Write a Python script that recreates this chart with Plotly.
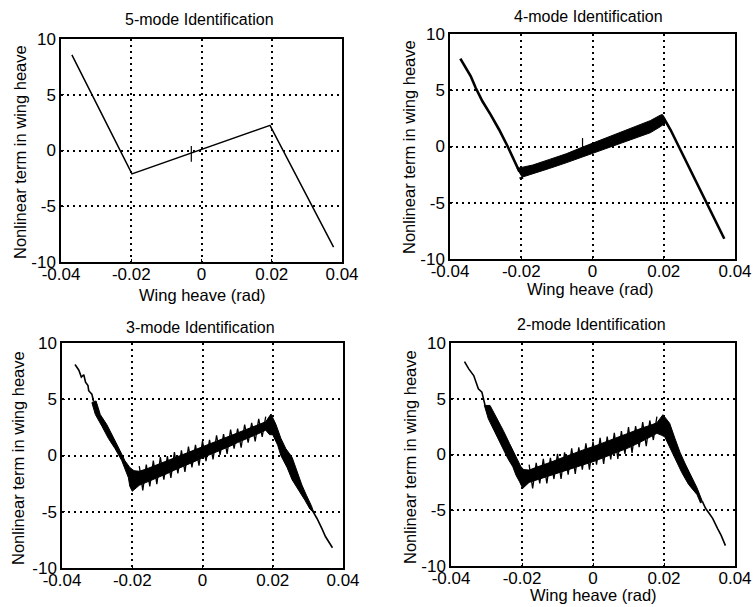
import plotly.graph_objects as go

# ---------------- axis ticks ----------------
x_ticks = [-0.04, -0.02, 0, 0.02, 0.04]
x_ticklabels = ["-0.04", "-0.02", "0", "0.02", "0.04"]
y_ticks = [-10, -5, 0, 5, 10]
y_ticklabels = ["-10", "-5", "0", "5", "10"]

titles = ["5-mode Identification", "4-mode Identification",
          "3-mode Identification", "2-mode Identification"]
x_title = "Wing heave (rad)"
y_title = "Nonlinear term in wing heave"

# ---------------- 5-mode (clean piecewise line) ----------------
m5_x = [-0.0369, -0.0198, 0.0195, 0.0376]
m5_y = [8.57, -2.10, 2.25, -8.66]
m5_spike_x = [-0.0029, -0.0029]
m5_spike_y = [0.40, -1.00]

# ---------------- 4-mode ----------------
m4_left_x = [-0.0371, -0.0342, -0.0328, -0.0309, -0.0286, -0.0262, -0.0238, -0.0219, -0.0205]
m4_left_y = [7.81, 6.26, 5.22, 4.02, 2.83, 1.49, 0.00, -1.34, -2.24]
m4_band_x = [-0.0168, -0.0121, -0.0074, -0.0026, 0.0021, 0.0068, 0.0115, 0.0162, 0.0190]
m4_band_top = [-1.65, -1.15, -0.65, -0.03, 0.55, 1.15, 1.72, 2.30, 2.78]
m4_band_bot = [-2.45, -1.95, -1.45, -0.90, -0.35, 0.15, 0.68, 1.22, 1.75]
m4_knee_x = [-0.0212, -0.0205, -0.0195]
m4_knee_y = [-1.95, -2.85, -2.80]
m4_peak_x = [0.0196, 0.0205]
m4_peak_y = [2.85, 2.10]
m4_right_x = [0.0195, 0.0200, 0.0219, 0.0247, 0.0275, 0.0304, 0.0332, 0.0351, 0.0370]
m4_right_y = [2.75, 2.53, 1.49, -0.30, -2.09, -3.87, -5.66, -7.00, -8.20]
m4_spike_x = [-0.0028, -0.0028]
m4_spike_y = [0.75, -0.10]

# ---------------- 3-mode ----------------
m3_left_x = [-0.0363, -0.0352, -0.0345, -0.0338, -0.0333, -0.0326, -0.0324, -0.0315, -0.0310]
m3_left_y = [8.09, 7.58, 6.97, 7.18, 6.52, 6.21, 5.76, 5.45, 4.80]
m3_in_x = [-0.0303, -0.0291, -0.0272, -0.0254, -0.0235, -0.0221, -0.0207, -0.0195]
m3_in_y = [4.85, 3.64, 2.73, 1.67, 0.45, -0.45, -1.06, -1.35]
m3_out_x = [-0.0200, -0.0207, -0.0211, -0.0221, -0.0230, -0.0249, -0.0268, -0.0286, -0.0305, -0.0315]
m3_out_y = [-3.18, -2.73, -1.97, -1.21, -0.45, 0.61, 1.52, 2.58, 3.64, 4.70]
m3_mid_x = [-0.018, -0.016, -0.014, -0.012, -0.010, -0.008, -0.006, -0.004, -0.002, 0.0,
            0.002, 0.004, 0.006, 0.008, 0.010, 0.012, 0.014, 0.016, 0.018]
m3_hi = [-0.95, -0.80, -0.45, -0.15, -0.05, 0.30, 0.45, 0.80, 0.95, 1.30,
         1.40, 1.80, 1.90, 2.30, 2.40, 2.75, 2.90, 3.25, 3.45]
m3_hi_core = [-1.40, -1.20, -0.95, -0.70, -0.45, -0.20, 0.05, 0.30, 0.55, 0.80,
              1.05, 1.25, 1.50, 1.75, 2.00, 2.25, 2.50, 2.75, 3.00]
m3_lo_x = [-0.017, -0.015, -0.013, -0.011, -0.009, -0.007, -0.005, -0.003, -0.001,
           0.001, 0.003, 0.005, 0.007, 0.009, 0.011, 0.013, 0.015, 0.017]
m3_lo = [-3.10, -2.75, -2.55, -2.15, -2.00, -1.60, -1.45, -1.05, -0.90,
         -0.50, -0.35, 0.05, 0.15, 0.60, 0.70, 1.15, 1.25, 1.65]
m3_lo_core = [-2.65, -2.40, -2.10, -1.85, -1.60, -1.30, -1.05, -0.75, -0.50, -0.20,
              0.05, 0.35, 0.60, 0.85, 1.15, 1.40, 1.70, 1.95, 2.25]
m3_peak_top = (0.0195, 3.69)
m3_peak_in = (0.0191, 1.85)
m3_rout_x = [0.0209, 0.0223, 0.0237, 0.0255, 0.0269, 0.0283, 0.0296, 0.0310, 0.0317]
m3_rout_y = [2.77, 1.54, 0.62, -0.15, -1.38, -2.62, -3.54, -4.46, -5.08]
m3_rin_x = [0.0306, 0.0292, 0.0273, 0.0255, 0.0241, 0.0223, 0.0214, 0.0200]
m3_rin_y = [-4.77, -4.00, -3.08, -2.15, -1.08, 0.00, 0.92, 1.85]
m3_right_x = [0.0313, 0.0326, 0.0340, 0.0350, 0.0370]
m3_right_y = [-4.90, -5.60, -6.50, -7.20, -8.20]

# ---------------- 2-mode ----------------
m2_left_x = [-0.0362, -0.0350, -0.0336, -0.0332, -0.0323, -0.0313, -0.0309, -0.0304]
m2_left_y = [8.33, 7.68, 7.08, 6.64, 5.89, 5.60, 5.00, 4.40]
m2_in_x = [-0.0290, -0.0272, -0.0253, -0.0235, -0.0217, -0.0203, -0.0195]
m2_in_y = [4.40, 3.36, 2.17, 0.98, -0.21, -1.10, -1.35]
m2_out_x = [-0.0198, -0.0200, -0.0207, -0.0217, -0.0226, -0.0240, -0.0258, -0.0276, -0.0295, -0.0306]
m2_out_y = [-3.04, -2.89, -2.44, -1.85, -1.10, -0.36, 0.83, 2.02, 3.21, 4.40]
m2_mid_x = [-0.018, -0.016, -0.014, -0.012, -0.010, -0.008, -0.006, -0.004, -0.002, 0.0,
            0.002, 0.004, 0.006, 0.008, 0.010, 0.012, 0.014, 0.016, 0.018]
m2_hi = [-0.90, -0.75, -0.40, -0.30, 0.05, 0.20, 0.55, 0.65, 1.00, 1.15,
         1.50, 1.60, 1.95, 2.10, 2.45, 2.55, 2.90, 3.05, 3.40]
m2_hi_core = [-1.40, -1.15, -0.95, -0.70, -0.45, -0.20, 0.00, 0.25, 0.50, 0.70,
              0.95, 1.20, 1.45, 1.65, 1.90, 2.15, 2.40, 2.60, 2.85]
m2_lo_x = [-0.017, -0.015, -0.013, -0.011, -0.009, -0.007, -0.005, -0.003, -0.001,
           0.001, 0.003, 0.005, 0.007, 0.009, 0.011, 0.013, 0.015, 0.017]
m2_lo = [-3.05, -2.60, -2.60, -2.20, -2.20, -1.80, -1.75, -1.35, -1.35,
         -0.90, -0.85, -0.45, -0.40, 0.05, 0.15, 0.65, 0.75, 1.30]
m2_lo_core = [-2.50, -2.30, -2.10, -1.90, -1.70, -1.50, -1.30, -1.05, -0.85, -0.65,
              -0.40, -0.15, 0.05, 0.35, 0.60, 0.90, 1.20, 1.55, 1.90]
m2_peak_top = (0.0197, 3.57)
m2_peak_in = (0.0192, 1.74)
m2_rout_x = [0.0216, 0.0231, 0.0245, 0.0260, 0.0279, 0.0293, 0.0308]
m2_rout_y = [2.80, 1.43, 0.21, -0.85, -2.07, -2.99, -4.20]
m2_rin_x = [0.0303, 0.0293, 0.0269, 0.0250, 0.0231, 0.0216, 0.0202]
m2_rin_y = [-4.36, -3.60, -2.68, -1.62, -0.40, 0.67, 1.59]
m2_right_x = [0.0308, 0.0317, 0.0327, 0.0337, 0.0351, 0.0361, 0.0373]
m2_right_y = [-4.20, -4.82, -5.27, -5.73, -6.65, -7.26, -8.17]

BLACK = "black"
FONT = "Liberation Sans, Arial, Helvetica, sans-serif"


def band_polygon(in_x, in_y, mid_x, hi_core, peak_top, rout_x, rout_y,
                 rin_x, rin_y, peak_in, lo_core, out_x, out_y):
    px = in_x + mid_x + [peak_top[0]] + rout_x + rin_x + [peak_in[0]] \
        + list(reversed(mid_x)) + out_x + [in_x[0]]
    py = in_y + hi_core + [peak_top[1]] + rout_y + rin_y + [peak_in[1]] \
        + list(reversed(lo_core)) + out_y + [in_y[0]]
    return px, py


def zigzag(hi_x, hi, lo_x, lo):
    zx, zy = [], []
    for i in range(len(hi_x)):
        zx.append(hi_x[i]); zy.append(hi[i])
        if i < len(lo_x):
            zx.append(lo_x[i]); zy.append(lo[i])
    return zx, zy


def line(x, y, xa, ya, w=1.3):
    return go.Scatter(x=x, y=y, mode="lines", line=dict(color=BLACK, width=w),
                      xaxis=xa, yaxis=ya, showlegend=False, hoverinfo="skip")


def poly(x, y, xa, ya):
    return go.Scatter(x=x, y=y, mode="lines", fill="toself", fillcolor=BLACK,
                      line=dict(color=BLACK, width=1.0), xaxis=xa, yaxis=ya,
                      showlegend=False, hoverinfo="skip")


fig = go.Figure()

# 5-mode (x, y)
fig.add_trace(line(m5_x, m5_y, "x", "y", 1.5))
fig.add_trace(line(m5_spike_x, m5_spike_y, "x", "y", 1.2))

# 4-mode (x2, y2)
fig.add_trace(line(m4_left_x, m4_left_y, "x2", "y2", 2.6))
b4x = [m4_knee_x[0]] + m4_band_x + m4_peak_x + list(reversed(m4_band_x)) + m4_knee_x[1:] + [m4_knee_x[0]]
b4y = [m4_knee_y[0]] + m4_band_top + m4_peak_y + list(reversed(m4_band_bot)) + list(reversed(m4_knee_y[1:])) + [m4_knee_y[0]]
fig.add_trace(poly(b4x, b4y, "x2", "y2"))
fig.add_trace(line(m4_right_x, m4_right_y, "x2", "y2", 2.6))
fig.add_trace(line(m4_spike_x, m4_spike_y, "x2", "y2", 1.2))

# 3-mode (x3, y3)
fig.add_trace(line(m3_left_x, m3_left_y, "x3", "y3", 1.6))
p3x, p3y = band_polygon(m3_in_x, m3_in_y, m3_mid_x, m3_hi_core, m3_peak_top,
                        m3_rout_x, m3_rout_y, m3_rin_x, m3_rin_y, m3_peak_in,
                        m3_lo_core, m3_out_x, m3_out_y)
fig.add_trace(poly(p3x, p3y, "x3", "y3"))
z3x, z3y = zigzag(m3_mid_x, m3_hi, m3_lo_x, m3_lo)
fig.add_trace(line(z3x, z3y, "x3", "y3", 1.3))
fig.add_trace(line(m3_right_x, m3_right_y, "x3", "y3", 1.6))

# 2-mode (x4, y4)
fig.add_trace(line(m2_left_x, m2_left_y, "x4", "y4", 1.6))
p2x, p2y = band_polygon(m2_in_x, m2_in_y, m2_mid_x, m2_hi_core, m2_peak_top,
                        m2_rout_x, m2_rout_y, m2_rin_x, m2_rin_y, m2_peak_in,
                        m2_lo_core, m2_out_x, m2_out_y)
fig.add_trace(poly(p2x, p2y, "x4", "y4"))
z2x, z2y = zigzag(m2_mid_x, m2_hi, m2_lo_x, m2_lo)
fig.add_trace(line(z2x, z2y, "x4", "y4", 1.3))
fig.add_trace(line(m2_right_x, m2_right_y, "x4", "y4", 1.6))

W, H = 754, 607


def dom_x(a, b):
    return [a / W, b / W]


def dom_y(top, bottom):
    return [1 - bottom / H, 1 - top / H]


boxes = [  # (left, right, top, bottom) in pixels
    (61, 342, 39, 262),
    (450, 735, 34, 259),
    (62, 343, 343, 568),
    (451, 735, 343, 566),
]

axis_common = dict(
    showgrid=True, gridcolor=BLACK, gridwidth=1.6, griddash="2px,4px",
    showline=True, linecolor=BLACK, linewidth=1.5, mirror=True,
    ticks="inside", ticklen=3, tickcolor=BLACK, tickwidth=1,
    zeroline=False, automargin=False,
    tickfont=dict(family=FONT, size=17, color=BLACK),
)

layout = dict(
    width=W, height=H, margin=dict(l=0, r=0, t=0, b=0),
    paper_bgcolor="white", plot_bgcolor="white", showlegend=False,
    font=dict(family=FONT, color=BLACK),
)
for i, (l, r, t, b) in enumerate(boxes):
    sx = "" if i == 0 else str(i + 1)
    layout["xaxis" + sx] = dict(axis_common, domain=dom_x(l, r), range=[-0.04, 0.04],
                                tickvals=x_ticks, ticktext=x_ticklabels,
                                anchor="y" + sx, ticklabelstandoff=-4)
    layout["yaxis" + sx] = dict(axis_common, domain=dom_y(t, b), range=[-10, 10],
                                tickvals=y_ticks, ticktext=y_ticklabels,
                                anchor="x" + sx)

fig.update_layout(**layout)

ann = []
title_pos = [(199, 20), (588, 17), (200, 327), (591, 325)]
for txt, (cx, cy) in zip(titles, title_pos):
    ann.append(dict(text=txt, x=cx / W, y=1 - cy / H, xref="paper", yref="paper",
                    xanchor="center", yanchor="middle", showarrow=False,
                    font=dict(family=FONT, size=16, color=BLACK)))
ylab_pos = [(20, 152), (409, 147), (18, 458), (410, 457)]
for cx, cy in ylab_pos:
    ann.append(dict(text=y_title, x=cx / W, y=1 - cy / H, xref="paper", yref="paper",
                    xanchor="center", yanchor="middle", showarrow=False, textangle=-90,
                    font=dict(family=FONT, size=16.5, color=BLACK)))
xlab_pos = [(202, 295), (590, 289), (593, 595)]
for cx, cy in xlab_pos:
    ann.append(dict(text=x_title, x=cx / W, y=1 - cy / H, xref="paper", yref="paper",
                    xanchor="center", yanchor="middle", showarrow=False,
                    font=dict(family=FONT, size=16.5, color=BLACK)))
fig.update_layout(annotations=ann)

fig.write_html("out.html")
